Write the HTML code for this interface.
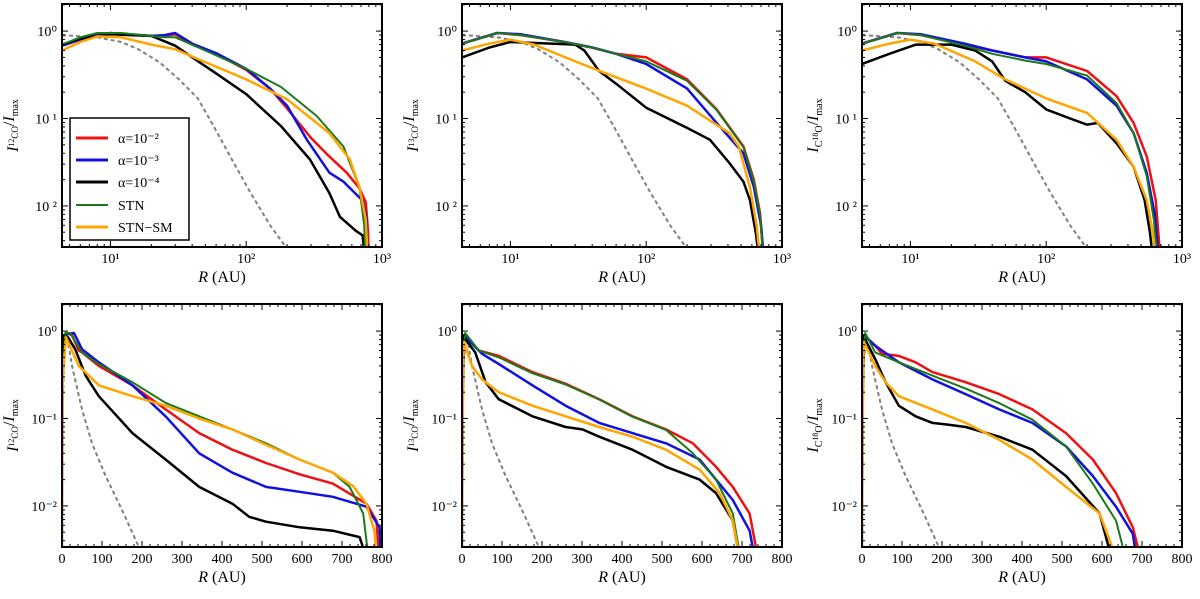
<!DOCTYPE html>
<html><head><meta charset="utf-8"><style>
html,body{margin:0;padding:0;background:#fff;}
svg{display:block;font-family:"Liberation Serif",serif;}
</style></head><body>
<svg id="fig" width="1200" height="599" viewBox="0 0 1200 599" xmlns="http://www.w3.org/2000/svg"></svg>
<script>
// ---------- data (x in AU, y = I/Imax) ----------
const gTop = [[4.4,0.9],[8,0.85],[12,0.75],[16,0.62],[23,0.44],[32,0.28],[44,0.17],[58,0.08],[81,0.031],[108,0.014],[150,0.006],[190,0.0036],[220,0.002]];
const gBot = [[0,0.05],[5,0.5],[12,0.9],[25,0.4],[50,0.127],[75,0.052],[109,0.022],[150,0.009],[192,0.0034],[210,0.002]];

const p1Red = [[4.4,0.68],[6,0.8],[8,0.9],[10,0.93],[20,0.88],[25,0.88],[30,0.92],[40,0.7],[60,0.55],[100,0.36],[150,0.22],[200,0.13],[300,0.06],[400,0.038],[550,0.024],[680,0.016],[760,0.011],[790,0.005],[800,0.002]];
const p1Blue = [[4.4,0.68],[6,0.8],[8,0.9],[10,0.95],[20,0.88],[25,0.9],[30,0.95],[40,0.72],[60,0.56],[100,0.37],[150,0.22],[200,0.14],[280,0.057],[410,0.024],[520,0.019],[720,0.0115],[770,0.007],[780,0.002]];
const p1Black = [[4.4,0.7],[6,0.82],[10,0.92],[20,0.88],[30,0.68],[40,0.5],[58,0.34],[100,0.19],[180,0.082],[295,0.034],[410,0.014],[490,0.0075],[640,0.0052],[720,0.0046],[760,0.002]];
const p1Green = [[4.4,0.7],[6,0.85],[8,0.95],[12,0.95],[25,0.85],[30,0.85],[50,0.6],[100,0.37],[180,0.23],[330,0.107],[520,0.048],[680,0.0165],[740,0.006],[760,0.002]];
const p1Orange = [[4.4,0.6],[6,0.75],[8,0.87],[12,0.85],[20,0.7],[30,0.62],[44,0.48],[100,0.28],[200,0.166],[410,0.068],[580,0.034],[680,0.0165],[760,0.007],[790,0.002]];

const p2Red = [[4.4,0.72],[8,0.95],[12,0.9],[25,0.75],[40,0.65],[60,0.55],[100,0.5],[200,0.28],[330,0.127],[520,0.048],[620,0.02],[690,0.0082],[740,0.002]];
const p2Green = [[4.4,0.72],[8,0.95],[12,0.9],[25,0.75],[40,0.65],[60,0.55],[100,0.45],[200,0.27],[330,0.125],[520,0.047],[620,0.019],[690,0.008],[735,0.002]];
const p2Blue = [[4.4,0.72],[8,0.95],[12,0.92],[25,0.75],[40,0.65],[60,0.55],[100,0.42],[200,0.22],[330,0.089],[520,0.04],[620,0.0165],[700,0.006],[745,0.002]];
const p2Orange = [[4.4,0.6],[7,0.72],[10,0.8],[15,0.7],[30,0.45],[50,0.33],[100,0.22],[200,0.14],[410,0.068],[480,0.048],[580,0.0165],[650,0.006],[700,0.002]];
const p2Black = [[4.4,0.5],[7,0.65],[10,0.75],[20,0.72],[30,0.7],[35,0.6],[45,0.35],[60,0.25],[100,0.133],[200,0.078],[295,0.057],[410,0.031],[520,0.019],[580,0.0117],[640,0.005],[690,0.002]];

const p3Red = [[4.4,0.72],[8,0.95],[12,0.9],[25,0.7],[40,0.6],[70,0.5],[100,0.5],[200,0.35],[330,0.18],[440,0.089],[550,0.037],[640,0.0117],[700,0.002]];
const p3Blue = [[4.4,0.72],[8,0.95],[12,0.92],[25,0.72],[40,0.6],[70,0.5],[100,0.45],[200,0.28],[330,0.14],[440,0.068],[550,0.024],[630,0.008],[680,0.002]];
const p3Green = [[4.4,0.72],[8,0.95],[12,0.9],[25,0.68],[40,0.55],[70,0.46],[100,0.42],[200,0.31],[330,0.15],[440,0.068],[550,0.022],[620,0.007],[670,0.002]];
const p3Orange = [[4.4,0.6],[7,0.72],[10,0.8],[15,0.72],[30,0.45],[50,0.28],[100,0.17],[200,0.116],[330,0.057],[440,0.028],[550,0.0117],[610,0.005],[650,0.002]];
const p3Black = [[4.4,0.42],[7,0.55],[11,0.7],[20,0.7],[30,0.6],[40,0.45],[50,0.27],[70,0.2],[100,0.127],[150,0.1],[200,0.085],[240,0.089],[330,0.052],[440,0.028],[530,0.0117],[580,0.005],[620,0.002]];

const p4Red = [[0,0.1],[3,0.6],[10,0.95],[25,0.9],[42,0.6],[50,0.57],[92,0.4],[176,0.24],[259,0.127],[343,0.068],[426,0.044],[510,0.031],[594,0.023],[677,0.018],[761,0.0106],[786,0.0068],[795,0.002]];
const p4Blue = [[0,0.1],[3,0.6],[10,0.92],[30,0.95],[50,0.62],[92,0.44],[176,0.24],[259,0.106],[343,0.04],[426,0.024],[510,0.0165],[594,0.0145],[677,0.0127],[761,0.0098],[794,0.0057],[798,0.002]];
const p4Black = [[0,0.1],[2,0.7],[5,0.9],[15,0.85],[33,0.62],[59,0.31],[92,0.18],[176,0.068],[259,0.034],[343,0.0165],[426,0.0106],[468,0.0075],[510,0.0066],[594,0.0057],[677,0.0052],[744,0.0044],[769,0.002]];
const p4Green = [[0,0.003],[2,0.3],[8,0.95],[20,0.95],[50,0.57],[92,0.42],[176,0.26],[259,0.151],[343,0.106],[426,0.075],[510,0.052],[594,0.034],[677,0.024],[719,0.0165],[736,0.0117],[753,0.0082],[769,0.002]];
const p4Orange = [[0,0.003],[2,0.3],[10,0.85],[42,0.4],[92,0.24],[176,0.18],[259,0.14],[343,0.1],[426,0.075],[510,0.05],[594,0.034],[677,0.024],[727,0.017],[761,0.0106],[782,0.005],[786,0.002]];

const p5Red = [[0,0.1],[5,0.9],[42,0.6],[92,0.52],[176,0.34],[259,0.25],[343,0.166],[426,0.106],[510,0.075],[577,0.052],[635,0.028],[677,0.0165],[719,0.0082],[744,0.002]];
const p5Green = [[0,0.003],[3,0.5],[8,0.95],[42,0.6],[92,0.5],[176,0.33],[259,0.245],[343,0.165],[426,0.105],[510,0.074],[577,0.04],[635,0.02],[677,0.0082],[700,0.002]];
const p5Blue = [[0,0.1],[5,0.9],[42,0.6],[50,0.55],[92,0.42],[176,0.24],[259,0.14],[343,0.089],[426,0.068],[510,0.052],[594,0.034],[635,0.02],[677,0.0117],[719,0.0052],[736,0.002]];
const p5Orange = [[0,0.003],[3,0.4],[5,0.75],[25,0.4],[50,0.28],[92,0.2],[176,0.14],[259,0.106],[343,0.08],[426,0.062],[510,0.044],[594,0.026],[644,0.014],[677,0.0068],[698,0.002]];
const p5Black = [[0,0.1],[5,0.85],[33,0.57],[59,0.26],[92,0.166],[176,0.106],[259,0.08],[301,0.075],[343,0.062],[426,0.044],[510,0.028],[594,0.02],[635,0.014],[677,0.0068],[698,0.002]];

const p6Red = [[0,0.1],[5,0.9],[33,0.68],[50,0.55],[92,0.52],[134,0.44],[176,0.34],[259,0.26],[343,0.19],[426,0.127],[510,0.068],[577,0.034],[635,0.014],[677,0.0057],[702,0.002]];
const p6Blue = [[0,0.1],[5,0.9],[33,0.68],[92,0.44],[176,0.28],[259,0.19],[343,0.127],[426,0.089],[510,0.048],[577,0.022],[635,0.0098],[677,0.0048],[690,0.002]];
const p6Green = [[0,0.003],[3,0.5],[8,0.95],[33,0.57],[92,0.44],[176,0.31],[259,0.22],[343,0.15],[426,0.097],[510,0.048],[577,0.018],[635,0.0068],[665,0.002]];
const p6Orange = [[0,0.003],[3,0.4],[5,0.75],[33,0.4],[59,0.26],[92,0.18],[176,0.127],[259,0.089],[343,0.057],[426,0.034],[510,0.0165],[594,0.0082],[644,0.002]];
const p6Black = [[0,0.1],[5,0.85],[33,0.48],[59,0.26],[92,0.14],[134,0.106],[176,0.089],[217,0.085],[259,0.08],[343,0.062],[426,0.044],[510,0.022],[594,0.0082],[630,0.002]];

const seriesColors = ["#ee1111","#1111dd","#000000","#1a7a1a","#ffa500"];
const legendLabels = ["α=10⁻²","α=10⁻³","α=10⁻⁴","STN","STN−SM"];
const topXTicks = [10,100,1000];
const topXTickLabels = ["10¹","10²","10³"];
const botXTicks = [0,100,200,300,400,500,600,700,800];
const yTicks = [1,0.1,0.01];
const yTickLabelsTop = ["10⁰","10 ¹","10 ²"];
const yTickLabelsBot = ["10⁰","10⁻¹","10⁻²"];

// ---------- drawing ----------
const NS="http://www.w3.org/2000/svg";
const svg=document.getElementById('fig');
function mk(tag,attrs,parent){const e=document.createElementNS(NS,tag);for(const k in attrs)e.setAttribute(k,attrs[k]);(parent||svg).appendChild(e);return e;}

const panels=[
 {id:'p1',left:62,top:4,log:true,yl:['I','12','CO'],series:[p1Red,p1Blue,p1Black,p1Green,p1Orange],gray:gTop,legend:true},
 {id:'p2',left:462,top:4,log:true,yl:['I','13','CO'],series:[p2Red,p2Blue,p2Black,p2Green,p2Orange],gray:gTop},
 {id:'p3',left:862,top:4,log:true,yl:['I','C','18','O'],series:[p3Red,p3Blue,p3Black,p3Green,p3Orange],gray:gTop},
 {id:'p4',left:62,top:304,log:false,yl:['I','12','CO'],series:[p4Red,p4Blue,p4Black,p4Green,p4Orange],gray:gBot},
 {id:'p5',left:462,top:304,log:false,yl:['I','13','CO'],series:[p5Red,p5Blue,p5Black,p5Green,p5Orange],gray:gBot},
 {id:'p6',left:862,top:304,log:false,yl:['I','C','18','O'],series:[p6Red,p6Blue,p6Black,p6Green,p6Orange],gray:gBot},
];
const W=320,H=243,YMIN=-2.47,YMAX=0.31;
const names=['red','blue','black','green','orange'];
const seriesNames=['alpha-1e-2','alpha-1e-3','alpha-1e-4','stn','stn-sm'];

panels.forEach((p,pi)=>{
  const g=mk('g',{});
  
  
  const sx = p.log ? (v=>p.left+(Math.log10(v)-Math.log10(4.4))/(3-Math.log10(4.4))*W)
                   : (v=>p.left+v/800*W);
  const sy = v=>p.top+(YMAX-Math.log10(v))/(YMAX-YMIN)*H;
  const cp=mk('clipPath',{id:'c'+p.id},g);
  mk('rect',{x:p.left,y:p.top,width:W,height:H},cp);
  const lines=mk('g',{'clip-path':'url(#c'+p.id+')'},g);
  // gray dashed
  const gd=mk('path',{d:p.gray.map((pt,i)=>(i?'L':'M')+sx(pt[0]).toFixed(1)+','+sy(pt[1]).toFixed(1)).join(''),fill:'none',stroke:'#808080','stroke-width':2,'stroke-dasharray':'4,3'},lines);
  
  
  p.series.forEach((s,si)=>{
    const e=mk('path',{d:s.map((pt,i)=>(i?'L':'M')+sx(pt[0]).toFixed(1)+','+sy(pt[1]).toFixed(1)).join(''),fill:'none',stroke:seriesColors[si],'stroke-width':si==3?2:2.5,'stroke-linejoin':'round'},lines);
    
    
  });
  // frame
  const fr=mk('rect',{x:p.left,y:p.top,width:W,height:H,fill:'none',stroke:'#000','stroke-width':2},g);
  
  
  const tk=mk('g',{stroke:'#000','stroke-width':1},g);
  // y ticks
  for(let d=-3;d<=0;d++){for(let m=1;m<10;m++){const v=m*Math.pow(10,d);const lv=Math.log10(v);if(lv<YMIN||lv>YMAX)continue;const y=sy(v);const L=m==1?6:3;
    mk('line',{x1:p.left,x2:p.left+L,y1:y,y2:y},tk);mk('line',{x1:p.left+W,x2:p.left+W-L,y1:y,y2:y},tk);}}
  yTicks.forEach((v,i)=>{const t=mk('text',{x:p.left-5,y:sy(v)+5,'text-anchor':'end','font-size':14},g);
    t.textContent=(p.log?yTickLabelsTop:yTickLabelsBot)[i];
    
    });
  // x ticks
  if(p.log){
    for(let d=0;d<3;d++){for(let m=1;m<10;m++){const v=m*Math.pow(10,d);if(v<4.4||v>1000)continue;const x=sx(v);const L=m==1?6:3;
      mk('line',{x1:x,x2:x,y1:p.top+H,y2:p.top+H-L},tk);mk('line',{x1:x,x2:x,y1:p.top,y2:p.top+L},tk);}}
    topXTicks.forEach((v,i)=>{const t=mk('text',{x:sx(v),y:p.top+H+16,'text-anchor':'middle','font-size':14},g);
      t.textContent=topXTickLabels[i];
      
      });
  } else {
    for(let v=0;v<=800;v+=20){const x=sx(v);const L=v%100==0?6:3;
      mk('line',{x1:x,x2:x,y1:p.top+H,y2:p.top+H-L},tk);mk('line',{x1:x,x2:x,y1:p.top,y2:p.top+L},tk);}
    botXTicks.forEach(v=>{const t=mk('text',{x:sx(v),y:p.top+H+16,'text-anchor':'middle','font-size':14},g);
      t.textContent=String(v);
      
      });
  }
  // x title
  const xt=mk('text',{x:p.left+W/2,y:p.top+H+35,'text-anchor':'middle','font-size':16},g);
  xt.innerHTML='<tspan font-style="italic">R</tspan> (AU)';
  
  
  // y title
  const cy=p.top+H/2, cx=p.left-44;
  const yt=mk('text',{x:cx,y:cy,'text-anchor':'middle','font-size':16,transform:'rotate(-90 '+cx+' '+cy+')'},g);
  let sub;
  if(p.yl.length==3) sub='<tspan font-size="9" dy="4"><tspan dy="-4" font-size="8">'+p.yl[1]+'</tspan><tspan dy="4">'+p.yl[2]+'</tspan></tspan>';
  else sub='<tspan font-size="10" dy="4">C<tspan font-size="8" dy="-4">'+p.yl[2]+'</tspan><tspan dy="4">O</tspan></tspan>';
  yt.innerHTML='<tspan font-style="italic">I</tspan>'+sub+'<tspan dy="-4">/</tspan><tspan font-style="italic">I</tspan><tspan font-size="10" dy="4">max</tspan>';
  
  
  // legend
  if(p.legend){
    const lg=mk('g',{},g);
    
    
    mk('rect',{x:70,y:118,width:119,height:122,fill:'#fff',stroke:'#000','stroke-width':1.5},lg);
    const ys=[138,160,182,205,227];
    legendLabels.forEach((lab,i)=>{
      const en=mk('g',{},lg);
      
      
      mk('line',{x1:76,x2:108,y1:ys[i],y2:ys[i],stroke:seriesColors[i],'stroke-width':i==3?2:3},en);
      const t=mk('text',{x:118,y:ys[i]+5,'font-size':14},en);
      t.textContent=lab;
    });
  }
});
</script>
</body></html>
